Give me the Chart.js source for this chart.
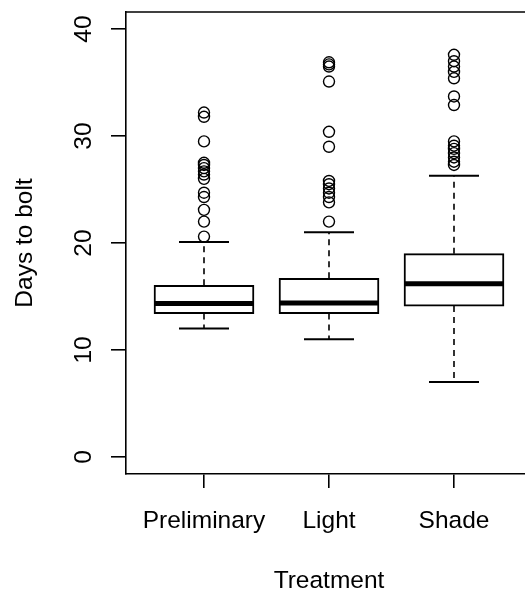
<!DOCTYPE html>
<html>
<head>
<meta charset="utf-8">
<script src="https://cdn.jsdelivr.net/npm/chart.js@4"></script>
<style>
  html, body { margin: 0; padding: 0; background: #fff; overflow: hidden; }
  canvas { display: block; }
</style>
</head>
<body>
<canvas id="chart" width="525" height="593"></canvas>
<script>
// ── Box plot summary ──
const CATEGORIES   = ['Preliminary', 'Light', 'Shade'];
const WHISKER_LOW  = [12.0, 11.0, 7.0];
const Q1           = [13.4, 13.4, 14.1];
const MEDIAN       = [14.35, 14.4, 16.2];
const Q3           = [16.05, 16.7, 19.0];
const WHISKER_HIGH = [20.1, 21.0, 26.3];

const OUTLIERS_PRELIMINARY = [32.2, 31.8, 29.5, 27.5, 27.3, 27.0, 26.7, 26.4, 26.0, 24.7, 24.3, 23.1, 22.0, 20.6];
const OUTLIERS_LIGHT       = [36.9, 36.7, 36.5, 35.1, 30.4, 29.0, 25.8, 25.5, 25.1, 24.7, 24.3, 23.8, 22.0];
const OUTLIERS_SHADE       = [37.6, 37.0, 36.5, 36.0, 35.4, 33.7, 32.9, 29.5, 29.1, 28.8, 28.4, 28.0, 27.6, 27.3];

const Y_TICKS = [0, 10, 20, 30, 40];
const X_TICKS = [1, 2, 3];

const FONT = '"Liberation Sans", Arial, sans-serif';
const FONT_SIZE = 24.5;

const outlierPoints = [];
[OUTLIERS_PRELIMINARY, OUTLIERS_LIGHT, OUTLIERS_SHADE].forEach((list, i) => {
  list.forEach(v => outlierPoints.push({ x: i + 1, y: v }));
});

function line(ctx, x1, y1, x2, y2) {
  ctx.beginPath();
  ctx.moveTo(x1, y1);
  ctx.lineTo(x2, y2);
  ctx.stroke();
}

// whiskers, caps, medians, frame and texts drawn through the chart scales
const boxParts = {
  id: 'boxParts',
  beforeDatasetsDraw(chart) {
    const { ctx, scales: { x, y } } = chart;
    ctx.save();
    ctx.strokeStyle = '#000';
    CATEGORIES.forEach((c, i) => {
      const cx = x.getPixelForValue(i + 1);
      ctx.lineWidth = 1.6;
      ctx.setLineDash([6, 5]);
      line(ctx, cx, y.getPixelForValue(Q3[i]), cx, y.getPixelForValue(WHISKER_HIGH[i]));
      line(ctx, cx, y.getPixelForValue(Q1[i]), cx, y.getPixelForValue(WHISKER_LOW[i]));
      ctx.setLineDash([]);
      ctx.lineWidth = 2;
      const l = x.getPixelForValue(i + 1 - 0.2), r = x.getPixelForValue(i + 1 + 0.2);
      line(ctx, l, y.getPixelForValue(WHISKER_HIGH[i]), r, y.getPixelForValue(WHISKER_HIGH[i]));
      line(ctx, l, y.getPixelForValue(WHISKER_LOW[i]), r, y.getPixelForValue(WHISKER_LOW[i]));
    });
    ctx.restore();
  },
  afterDatasetsDraw(chart) {
    const { ctx, scales: { x, y } } = chart;
    ctx.save();
    ctx.strokeStyle = '#000';
    ctx.lineWidth = 5;
    CATEGORIES.forEach((c, i) => {
      const l = x.getPixelForValue(i + 1 - 0.4), r = x.getPixelForValue(i + 1 + 0.4);
      line(ctx, l, y.getPixelForValue(MEDIAN[i]), r, y.getPixelForValue(MEDIAN[i]));
    });
    ctx.restore();
  },
  afterDraw(chart) {
    const { ctx, chartArea: a, scales: { x, y } } = chart;
    ctx.save();
    // top edge of the frame
    ctx.strokeStyle = '#000';
    ctx.lineWidth = 1.6;
    line(ctx, a.left, a.top, a.right, a.top);

    ctx.fillStyle = '#000';
    ctx.font = FONT_SIZE + 'px ' + FONT;
    ctx.textAlign = 'center';
    ctx.textBaseline = 'alphabetic';
    // y tick labels, turned like the axis
    Y_TICKS.forEach(v => {
      ctx.save();
      ctx.translate(91, y.getPixelForValue(v));
      ctx.rotate(-Math.PI / 2);
      ctx.fillText(String(v), 0, 0);
      ctx.restore();
    });
    // x tick labels
    X_TICKS.forEach(v => {
      ctx.fillText(CATEGORIES[v - 1], x.getPixelForValue(v), 528);
    });
    // axis titles
    ctx.save();
    ctx.translate(32, (a.top + a.bottom) / 2);
    ctx.rotate(-Math.PI / 2);
    ctx.fillText('Days to bolt', 0, 0);
    ctx.restore();
    ctx.fillText('Treatment', 329, 588);
    ctx.restore();
  }
};

new Chart(document.getElementById('chart'), {
  type: 'bar',
  data: {
    datasets: [
      {
        label: 'Box',
        data: CATEGORIES.map((c, i) => ({ x: i + 1, y: [Q1[i], Q3[i]] })),
        backgroundColor: '#fff',
        borderColor: '#000',
        borderWidth: 2,
        borderSkipped: false,
        barThickness: 100,
        order: 2
      },
      {
        type: 'scatter',
        label: 'Outliers',
        data: outlierPoints,
        pointStyle: 'circle',
        pointRadius: 5.5,
        pointBorderWidth: 1.4,
        pointBackgroundColor: 'rgba(0,0,0,0)',
        pointBorderColor: '#000',
        order: 1
      }
    ]
  },
  options: {
    responsive: false,
    animation: false,
    layout: { autoPadding: false, padding: { top: 12, left: 0, right: 0, bottom: 0 } },
    plugins: { legend: { display: false }, tooltip: { enabled: false } },
    scales: {
      x: {
        type: 'linear',
        offset: false,
        min: 0.376,
        max: 3.568,
        afterBuildTicks: s => { s.ticks = X_TICKS.map(v => ({ value: v })); },
        afterFit: s => { s.height = 119; },
        grid: { offset: false, drawOnChartArea: false, drawTicks: true, tickLength: 14, color: '#000', lineWidth: 1.6 },
        border: { display: true, color: '#000', width: 1.6 },
        ticks: { display: false }
      },
      y: {
        type: 'linear',
        min: -1.6,
        max: 41.6,
        afterBuildTicks: s => { s.ticks = Y_TICKS.map(v => ({ value: v })); },
        afterFit: s => { s.width = 126; },
        grid: { drawOnChartArea: false, drawTicks: true, tickLength: 15, color: '#000', lineWidth: 1.6 },
        border: { display: true, color: '#000', width: 1.6 },
        ticks: { display: false }
      }
    }
  },
  plugins: [boxParts]
});
</script>
</body>
</html>
